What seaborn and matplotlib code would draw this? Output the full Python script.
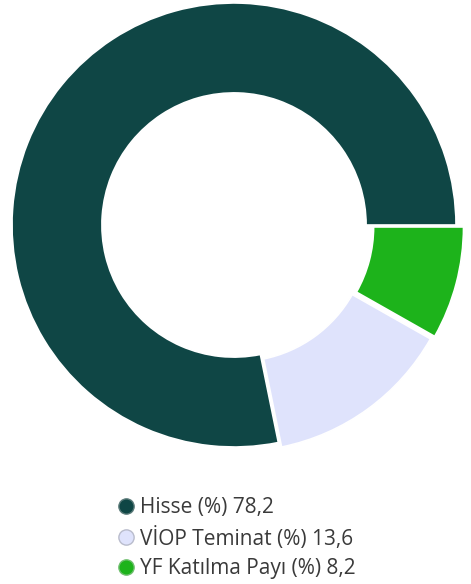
import matplotlib
matplotlib.use('Agg')
import matplotlib.pyplot as plt
from matplotlib.lines import Line2D
import seaborn as sns

# Data
categories = ['Hisse (%)', 'VİOP Teminat (%)', 'YF Katılma Payı (%)']
values = [78.2, 13.6, 8.2]
colors = ['#0f4645', '#dfe3fc', '#1db31b']
explode = [0, 0.025, 0.035]

sns.set_theme(style='white')
plt.rcParams['font.family'] = ['Open Sans', 'DejaVu Sans']

fig = plt.figure(figsize=(4.71, 5.84), dpi=100)

# donut centered at ~(234, 225) px, radius ~222 px
r_px = 222
half = 1.06
side = 2 * half * r_px
cx, cy = 234, 584 - 225
ax = fig.add_axes([(cx - side / 2) / 471, (cy - side / 2) / 584, side / 471, side / 584])

ax.pie(values, colors=colors, startangle=0, counterclock=True, explode=explode,
       radius=1, wedgeprops=dict(width=0.405, edgecolor='white', linewidth=1.2))
ax.set_xlim(-half, half)
ax.set_ylim(-half, half)
ax.set_aspect('equal')
ax.axis('off')

# Legend
labels = [f"{c} {str(v).replace('.', ',')}" for c, v in zip(categories, values)]
edge_colors = ['#5a7a79', '#b9bccc', '#6fbf6e']
handles = [Line2D([0], [0], marker='o', linestyle='', markersize=11,
                  markerfacecolor=c, markeredgecolor=e, markeredgewidth=1)
           for c, e in zip(colors, edge_colors)]
fig.legend(handles, labels, loc='upper left', bbox_to_anchor=(108 / 471, 1 - 487 / 584),
           frameon=False, fontsize=15, labelcolor='#3a3a3a', handlelength=0.75,
           handletextpad=0.28, labelspacing=0.4, borderpad=0)

fig.savefig('out.png', dpi=100)
